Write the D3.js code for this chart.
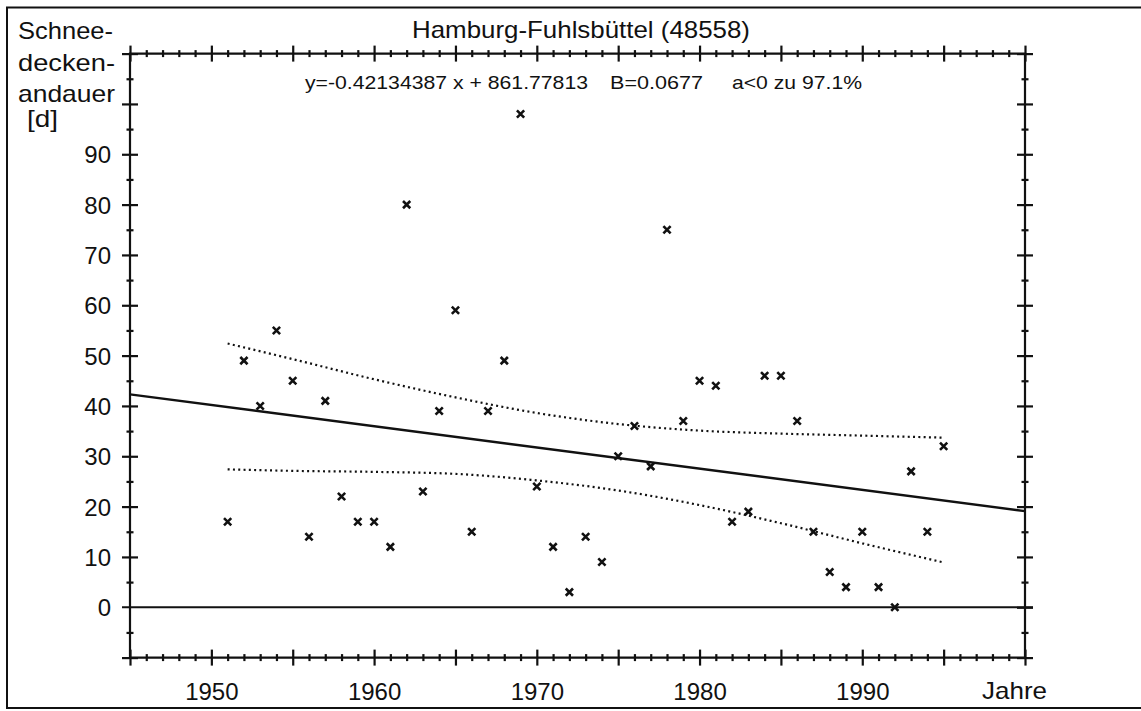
<!DOCTYPE html>
<html>
<head>
<meta charset="utf-8">
<script src="https://cdn.jsdelivr.net/npm/d3@7"></script>
<style>
  html, body { margin: 0; padding: 0; background: #fff; }
  svg text { font-family: "Liberation Sans", Arial, Helvetica, sans-serif; fill: #111; }
</style>
</head>
<body>
<svg id="chart" width="1141" height="711"></svg>
<script>
// texts
const title = 'Hamburg-Fuhlsbüttel (48558)';
const yLabelLines = ['Schnee-', 'decken-', 'andauer', '[d]'];
const equationParts = ['y=-0.42134387 x + 861.77813', 'B=0.0677', 'a<0 zu 97.1%'];
const xLabel = 'Jahre';
const xTickLabels = [1950, 1960, 1970, 1980, 1990];
const yTickLabels = [0, 10, 20, 30, 40, 50, 60, 70, 80, 90];

// snow cover duration per winter [d]
const years = [1951, 1952, 1953, 1954, 1955, 1956, 1957, 1958, 1959, 1960,
  1961, 1962, 1963, 1964, 1965, 1966, 1967, 1968, 1969, 1970,
  1971, 1972, 1973, 1974, 1975, 1976, 1977, 1978, 1979, 1980,
  1981, 1982, 1983, 1984, 1985, 1986, 1987, 1988, 1989, 1990,
  1991, 1992, 1993, 1994, 1995];
const snowDays = [17, 49, 40, 55, 45, 14, 41, 22, 17, 17,
  12, 80, 23, 39, 59, 15, 39, 49, 98, 24,
  12, 3, 14, 9, 30, 36, 28, 75, 37, 45,
  44, 17, 19, 46, 46, 37, 15, 7, 4, 15,
  4, 0, 27, 15, 32];

// trend line and its confidence band
const regYears = [1945, 2000];
const regValues = [42.3, 19.1];
const bandYears = [1951, 1955, 1960, 1965, 1970, 1975, 1980, 1985, 1990, 1995];
const bandUpper = [52.4, 49.3, 45.3, 41.7, 38.6, 36.4, 35.1, 34.5, 34.1, 33.7];
const bandLower = [27.4, 27.1, 26.9, 26.5, 25.2, 23.2, 20.3, 16.7, 12.7, 8.9];

const ink = '#111';
const svg = d3.select('#chart');

const x = d3.scaleLinear().domain([1945, 2000]).range([130, 1025]);
const y = d3.scaleLinear().domain([-10, 110]).range([657.6, 53.6]);

// outer frame
svg.append('rect')
  .attr('x', 7).attr('y', 7.5)
  .attr('width', 1150).attr('height', 700.5)
  .attr('fill', 'none').attr('stroke', ink).attr('stroke-width', 2);

// crossing ticks on all four sides
const crossTicks = (makeAxis, scale, transform, values, half) => {
  [half, -half].forEach(s => {
    svg.append('g')
      .attr('transform', transform)
      .call(makeAxis(scale).tickValues(values).tickSize(s).tickFormat(''))
      .call(g => g.select('.domain').remove())
      .call(g => g.selectAll('line').attr('stroke', ink).attr('stroke-width', 2.2));
  });
};

const xMajor = d3.range(1945, 2001, 5);
const xMinor = d3.range(1945, 2001, 1).filter(v => v % 5 !== 0);
const yMajor = d3.range(-10, 111, 10);
const yMinor = d3.range(-5, 110, 10);

const [x0, x1] = x.range();
const [yb, yt] = y.range();

crossTicks(d3.axisBottom, x, `translate(0,${yb})`, xMajor, 8);
crossTicks(d3.axisBottom, x, `translate(0,${yb})`, xMinor, 3.5);
crossTicks(d3.axisTop, x, `translate(0,${yt})`, xMajor, 8);
crossTicks(d3.axisTop, x, `translate(0,${yt})`, xMinor, 3.5);
crossTicks(d3.axisLeft, y, `translate(${x0},0)`, yMajor.filter(v => v !== 0), 8);
crossTicks(d3.axisLeft, y, `translate(${x0},0)`, yMinor, 3.5);
crossTicks(d3.axisRight, y, `translate(${x1},0)`, yMajor, 8);
crossTicks(d3.axisRight, y, `translate(${x1},0)`, yMinor, 3.5);

// plot frame
svg.append('path')
  .attr('d', `M${x0},${yt}H${x1}V${yb}H${x0}Z`)
  .attr('fill', 'none').attr('stroke', ink).attr('stroke-width', 2.2);

// zero line, running through the side ticks
svg.append('line')
  .attr('x1', x0 - 8).attr('x2', x1 + 8)
  .attr('y1', y(0)).attr('y2', y(0))
  .attr('stroke', ink).attr('stroke-width', 1.8);

// tick labels
svg.append('g')
  .attr('transform', `translate(0,${yb})`)
  .call(d3.axisBottom(x).tickValues(xTickLabels).tickSize(0).tickFormat(d3.format('d')))
  .call(g => g.select('.domain').remove())
  .call(g => g.selectAll('text')
    .attr('y', 42).attr('dy', 0)
    .style('font-size', '24px').style('font-family', null).attr('fill', ink));

svg.append('g')
  .attr('transform', `translate(${x0},0)`)
  .call(d3.axisLeft(y).tickValues(yTickLabels).tickSize(0).tickPadding(19))
  .call(g => g.select('.domain').remove())
  .call(g => g.selectAll('text')
    .attr('dy', '0.36em')
    .style('font-size', '24px').style('font-family', null).attr('fill', ink));

// confidence band (dotted)
const bandLine = vals => d3.line()
  .x((d, i) => x(bandYears[i]))
  .y((d, i) => y(vals[i]))
  .curve(d3.curveMonotoneX)(vals);

[bandUpper, bandLower].forEach(vals => {
  svg.append('path')
    .attr('d', bandLine(vals))
    .attr('fill', 'none')
    .attr('stroke', ink)
    .attr('stroke-width', 2.2)
    .attr('stroke-dasharray', '2,3.3');
});

// regression line
svg.append('line')
  .attr('x1', x(regYears[0])).attr('y1', y(regValues[0]))
  .attr('x2', x(regYears[1])).attr('y2', y(regValues[1]))
  .attr('stroke', ink).attr('stroke-width', 2.4);

// data points
const cross = d3.symbol(d3.symbolX, 36);
svg.selectAll('path.pt')
  .data(years)
  .enter()
  .append('path')
    .attr('class', 'pt')
    .attr('d', cross)
    .attr('transform', (d, i) => `translate(${x(d)},${y(snowDays[i])})`)
    .attr('fill', 'none')
    .attr('stroke', ink)
    .attr('stroke-width', 2.6);

// title, equation, axis names
svg.append('text')
  .attr('x', 412).attr('y', 38)
  .attr('textLength', 338).attr('lengthAdjust', 'spacingAndGlyphs')
  .style('font-size', '24px')
  .text(title);

const eqX = [305, 610, 732];
const eqW = [283, 93, 130];
equationParts.forEach((t, i) => {
  svg.append('text')
    .attr('x', eqX[i]).attr('y', 89)
    .attr('textLength', eqW[i]).attr('lengthAdjust', 'spacingAndGlyphs')
    .style('font-size', '19px')
    .text(t);
});

const ylX = [18, 18, 18, 27];
const ylY = [38.5, 70.5, 102, 127];
const ylW = [95, 97, 97, 31];
yLabelLines.forEach((t, i) => {
  svg.append('text')
    .attr('x', ylX[i]).attr('y', ylY[i])
    .attr('textLength', ylW[i]).attr('lengthAdjust', 'spacingAndGlyphs')
    .style('font-size', '24px')
    .text(t);
});

svg.append('text')
  .attr('x', 982).attr('y', 699)
  .attr('textLength', 65).attr('lengthAdjust', 'spacingAndGlyphs')
  .style('font-size', '24px')
  .text(xLabel);
</script>
</body>
</html>
